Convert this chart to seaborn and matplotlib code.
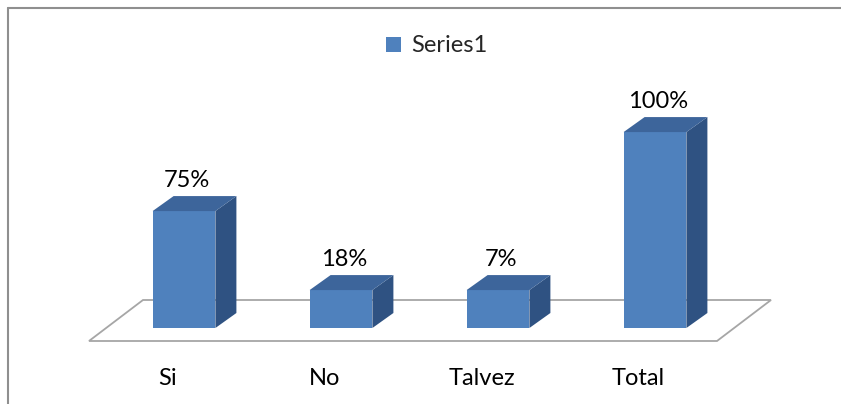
import numpy as np
import pandas as pd
import matplotlib
matplotlib.use("Agg")
import matplotlib.pyplot as plt
import seaborn as sns
from matplotlib.patches import Polygon
from matplotlib.lines import Line2D
import matplotlib.transforms as mtransforms

# ---------------- data ----------------
categories = ["Si", "No", "Talvez", "Total"]
values = [75, 18, 7, 100]
value_labels = ["75%", "18%", "7%", "100%"]
series_name = "Series1"

# The original (Excel 3-D column) has its floor at ~38 and shows values
# below the floor as a short stub ending at ~50.
axis_min = 38
stub_value = 50

FRONT = "#4F81BD"
TOP = "#3D659B"
SIDE = "#2F5282"
FLOOR_EDGE = "#A6A6A6"
BORDER = "#8F8F8F"

sns.set_theme(style="white")
plt.rcParams["font.family"] = ["Lato", "DejaVu Sans"]

W, H = 841, 404
fig = plt.figure(figsize=(W / 100, H / 100), dpi=100)
fig.patch.set_facecolor("white")

px_per_unit = 3.16
ax_left, ax_bottom, ax_w, ax_h = 105.5, 76, 628, 320
ax = fig.add_axes([ax_left / W, ax_bottom / H, ax_w / W, ax_h / H])

df = pd.DataFrame({
    "cat": categories,
    "val": np.maximum(values, stub_value),
    "serie": series_name,
})
sns.barplot(data=df, x="cat", y="val", hue="serie", palette=[FRONT],
            width=0.4, saturation=1, ax=ax, legend=True, zorder=2,
            linewidth=0, edgecolor="none")

xlim = (-0.5, len(categories) - 0.5)
ylim = (axis_min, axis_min + ax_h / px_per_unit)
ax.set_xlim(*xlim)
ax.set_ylim(*ylim)

bars = sorted(list(ax.containers[0]), key=lambda p: p.get_x())
ident = mtransforms.IdentityTransform()
ybot = ax.transAxes.transform((0, 0))[1]
x_ax0 = ax.transAxes.transform((0, 0))[0]
x_ax1 = ax.transAxes.transform((1, 0))[0]

# floor parallelogram
fdx0, fdy0 = -16.5, -13
fdx, fdy = 54, 41
floor = Polygon([(x_ax0 + fdx0, ybot + fdy0), (x_ax1 + fdx0, ybot + fdy0),
                 (x_ax1 + fdx0 + fdx, ybot + fdy0 + fdy),
                 (x_ax0 + fdx0 + fdx, ybot + fdy0 + fdy)],
                closed=True, transform=ident, facecolor="white",
                edgecolor=FLOOR_EDGE, linewidth=1.3, clip_on=False, zorder=1)
ax.add_patch(floor)

# 3-D tops and sides
dx, dy = 21, 15
for i, p in enumerate(bars):
    x0 = p.get_x()
    w = p.get_width()
    h = p.get_height()
    xl, yt = ax.transData.transform((x0, h))
    xr, _ = ax.transData.transform((x0 + w, h))
    side = Polygon([(xr, ybot), (xr, yt), (xr + dx, yt + dy), (xr + dx, ybot + dy)],
                   closed=True, transform=ident, facecolor=SIDE,
                   edgecolor="none", clip_on=False, zorder=3)
    top = Polygon([(xl, yt), (xr, yt), (xr + dx, yt + dy), (xl + dx, yt + dy)],
                  closed=True, transform=ident, facecolor=TOP,
                  edgecolor="none", clip_on=False, zorder=3)
    ax.add_patch(side)
    ax.add_patch(top)
    cx = (xl + xr) / 2
    ax.text(cx + 3, yt + 24, value_labels[i], transform=ident,
            ha="center", va="baseline", fontsize=17, color="black",
            zorder=5)

# category labels (at front of floor)
for i, c in enumerate(categories):
    cx = ax.transData.transform((i, 0))[0] + fdx0
    ax.text(cx, H - 378.5, c, transform=ident, ha="center", va="center",
            fontsize=17, color="black")

ax.set_xlim(*xlim)
ax.set_ylim(*ylim)
ax.set_xlabel("")
ax.set_ylabel("")
ax.set_xticks([])
ax.set_yticks([])
for s in ax.spines.values():
    s.set_visible(False)
ax.patch.set_visible(False)

# legend
leg = ax.legend(loc="center", bbox_to_anchor=(437 / W, (H - 46) / H),
                bbox_transform=fig.transFigure, frameon=False,
                fontsize=17, handlelength=0.6, handleheight=0.6,
                handletextpad=0.45, borderpad=0)
for t in leg.get_texts():
    t.set_text(series_name)

# chart border (left and top)
fig.add_artist(Line2D([8, 8], [0, H - 8], transform=ident, color=BORDER, lw=1.5))
fig.add_artist(Line2D([8, W], [H - 8, H - 8], transform=ident, color=BORDER, lw=1.5))

fig.savefig("out.png", dpi=100)
